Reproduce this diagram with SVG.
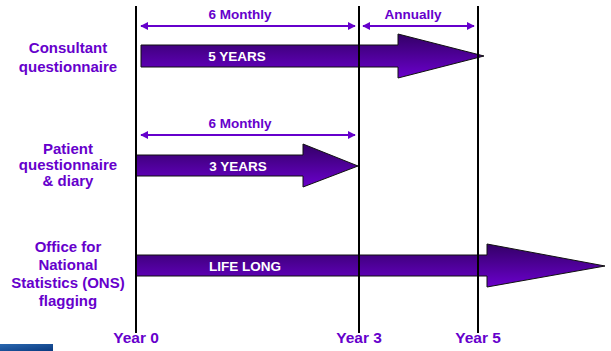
<svg xmlns="http://www.w3.org/2000/svg" width="611" height="351" viewBox="0 0 611 351">
<defs>
<linearGradient id="pg" x1="0" y1="0" x2="0" y2="1">
<stop offset="0" stop-color="#330066"/>
<stop offset="1" stop-color="#6a00cc"/>
</linearGradient>
<linearGradient id="bg" x1="0" y1="0" x2="1" y2="1">
<stop offset="0" stop-color="#2a68b0"/>
<stop offset="1" stop-color="#0a3a80"/>
</linearGradient>
<marker id="ah" viewBox="0 0 10 10" refX="9" refY="5" markerWidth="4" markerHeight="4" orient="auto-start-reverse">
<path d="M0,0 L10,5 L0,10 z" fill="#6600cc"/>
</marker>
<style>
.lbl{font-family:"Liberation Sans",Arial,sans-serif;font-weight:bold;font-size:15px;fill:#6600cc;text-anchor:middle}
.sm{font-family:"Liberation Sans",Arial,sans-serif;font-weight:bold;font-size:13.5px;fill:#6600cc;text-anchor:middle}
.in{font-family:"Liberation Sans",Arial,sans-serif;font-weight:bold;font-size:13.5px;fill:#ffffff;text-anchor:middle}
.yr{font-family:"Liberation Sans",Arial,sans-serif;font-weight:bold;font-size:15.5px;fill:#6600cc;text-anchor:middle}
.arr{fill:url(#pg);stroke:#111;stroke-width:1}
.vl{stroke:#000;stroke-width:2}
.iv{stroke:#6600cc;stroke-width:2;fill:none}
</style>
</defs>
<rect x="0" y="0" width="611" height="351" fill="#ffffff"/>
<rect x="0" y="344" width="53" height="7" fill="url(#bg)"/>

<g id="consultant-arrow">
<path class="arr" d="M141,45 L398,45 L398,34 L484,56 L398,78 L398,67 L141,67 Z"/>
<text class="in" x="237" y="61">5 YEARS</text>
</g>
<g id="patient-arrow">
<path class="arr" d="M136,155 L303,155 L303,144 L358,166 L303,187 L303,176 L136,176 Z"/>
<text class="in" x="238" y="171">3 YEARS</text>
</g>
<g id="ons-arrow">
<path class="arr" d="M136,255 L487,255 L487,244 L605,266 L487,287 L487,276 L136,276 Z"/>
<text class="in" x="245" y="271">LIFE LONG</text>
</g>

<g id="timeline">
<line class="vl" x1="136" y1="6" x2="136" y2="333"/>
<line class="vl" x1="359" y1="6" x2="359" y2="333"/>
<line class="vl" x1="478" y1="6" x2="478" y2="333"/>
</g>

<g id="connectors">
<line class="iv" x1="141" y1="26" x2="355" y2="26" marker-start="url(#ah)" marker-end="url(#ah)"/>
<line class="iv" x1="363" y1="26" x2="474" y2="26" marker-start="url(#ah)" marker-end="url(#ah)"/>
<line class="iv" x1="141" y1="135" x2="355" y2="135" marker-start="url(#ah)" marker-end="url(#ah)"/>
</g>
<g id="interval-labels">
<text class="sm" x="240" y="19">6 Monthly</text>
<text class="sm" x="413" y="19">Annually</text>
<text class="sm" x="240" y="128">6 Monthly</text>
</g>

<g id="consultant-label">
<text class="lbl" x="68" y="53">Consultant</text>
<text class="lbl" x="68" y="72">questionnaire</text>
</g>
<g id="patient-label">
<text class="lbl" x="68" y="154">Patient</text>
<text class="lbl" x="68" y="170">questionnaire</text>
<text class="lbl" x="68" y="186">&amp; diary</text>
</g>
<g id="ons-label">
<text class="lbl" x="68" y="252">Office for</text>
<text class="lbl" x="68" y="270">National</text>
<text class="lbl" x="68" y="288">Statistics (ONS)</text>
<text class="lbl" x="68" y="306">flagging</text>
</g>

<g id="years">
<text class="yr" x="136" y="343">Year 0</text>
<text class="yr" x="359" y="343">Year 3</text>
<text class="yr" x="478" y="343">Year 5</text>
</g>
</svg>
